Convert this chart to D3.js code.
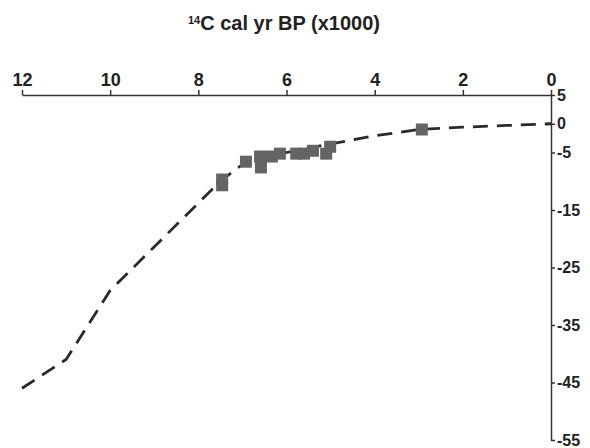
<!DOCTYPE html>
<html>
<head>
<meta charset="utf-8">
<script src="https://cdn.jsdelivr.net/npm/d3@7"></script>
<style>
  body { margin: 0; background: #fff; }
  svg text { font-family: "Liberation Sans", Arial, sans-serif; font-weight: bold; fill: #222; }
</style>
</head>
<body>
<svg width="590" height="448"></svg>
<script>
// curve (ka BP vs value)
let lineAge = [12, 11, 10, 7.5, 6.9, 6, 5, 4, 3, 2, 1, 0];
let lineVal = [-46, -41, -29, -10, -6.5, -5, -3.5, -2.1, -1, -0.6, -0.3, 0];

// dated samples
let sampleAge = [7.46, 7.46, 6.92, 6.60, 6.58, 6.33, 6.15, 5.78, 5.60, 5.40, 5.10, 5.01, 2.93];
let sampleVal = [-9.7, -10.7, -6.6, -5.7, -7.6, -5.7, -5.2, -5.2, -5.2, -4.7, -5.2, -4.0, -1.0];

let xTicks = [12, 10, 8, 6, 4, 2, 0];
let yTicks = [5, 0, -5, -15, -25, -35, -45, -55];

let svg = d3.select("svg");

let x = d3.scaleLinear().domain([12, 0]).range([22, 551]);
let y = d3.scaleLinear().domain([5, -55]).range([95, 440]);

// top axis
let gx = svg.append("g")
    .attr("transform", "translate(0," + y(5) + ")")
    .call(d3.axisTop(x).tickValues(xTicks).tickSize(5).tickPadding(4).tickSizeOuter(0));
gx.selectAll("text").style("font-size", "18px");

// right axis
let gy = svg.append("g")
    .attr("transform", "translate(" + x(0) + ",0)")
    .call(d3.axisRight(y).tickValues(yTicks).tickSize(4).tickPadding(2).tickSizeOuter(0)
        .tickFormat(d => String(d)));
gy.selectAll("text").style("font-size", "16px");

svg.selectAll(".domain, .tick line").attr("stroke", "#333").attr("stroke-width", 1.5);

// title
let title = svg.append("text")
    .attr("x", 284)
    .attr("y", 30)
    .attr("text-anchor", "middle")
    .style("font-size", "20px");
title.append("tspan").text("14").style("font-size", "11px").attr("dy", "-6");
title.append("tspan").text("C cal yr BP (x1000)").attr("dy", "6");

// dashed curve
let line = d3.line()
    .x((d, i) => x(lineAge[i]))
    .y(d => y(d));

svg.append("path")
    .datum(lineVal)
    .attr("fill", "none")
    .attr("stroke", "#2a2a2a")
    .attr("stroke-width", 2.8)
    .attr("stroke-dasharray", "15,9")
    .attr("d", line);

// sample squares
let s = 12;
svg.append("g")
    .selectAll("rect")
    .data(sampleVal)
    .join("rect")
    .attr("x", (d, i) => x(sampleAge[i]) - s / 2)
    .attr("y", d => y(d) - s / 2)
    .attr("width", s)
    .attr("height", s)
    .attr("fill", "#646464");
</script>
</body>
</html>
